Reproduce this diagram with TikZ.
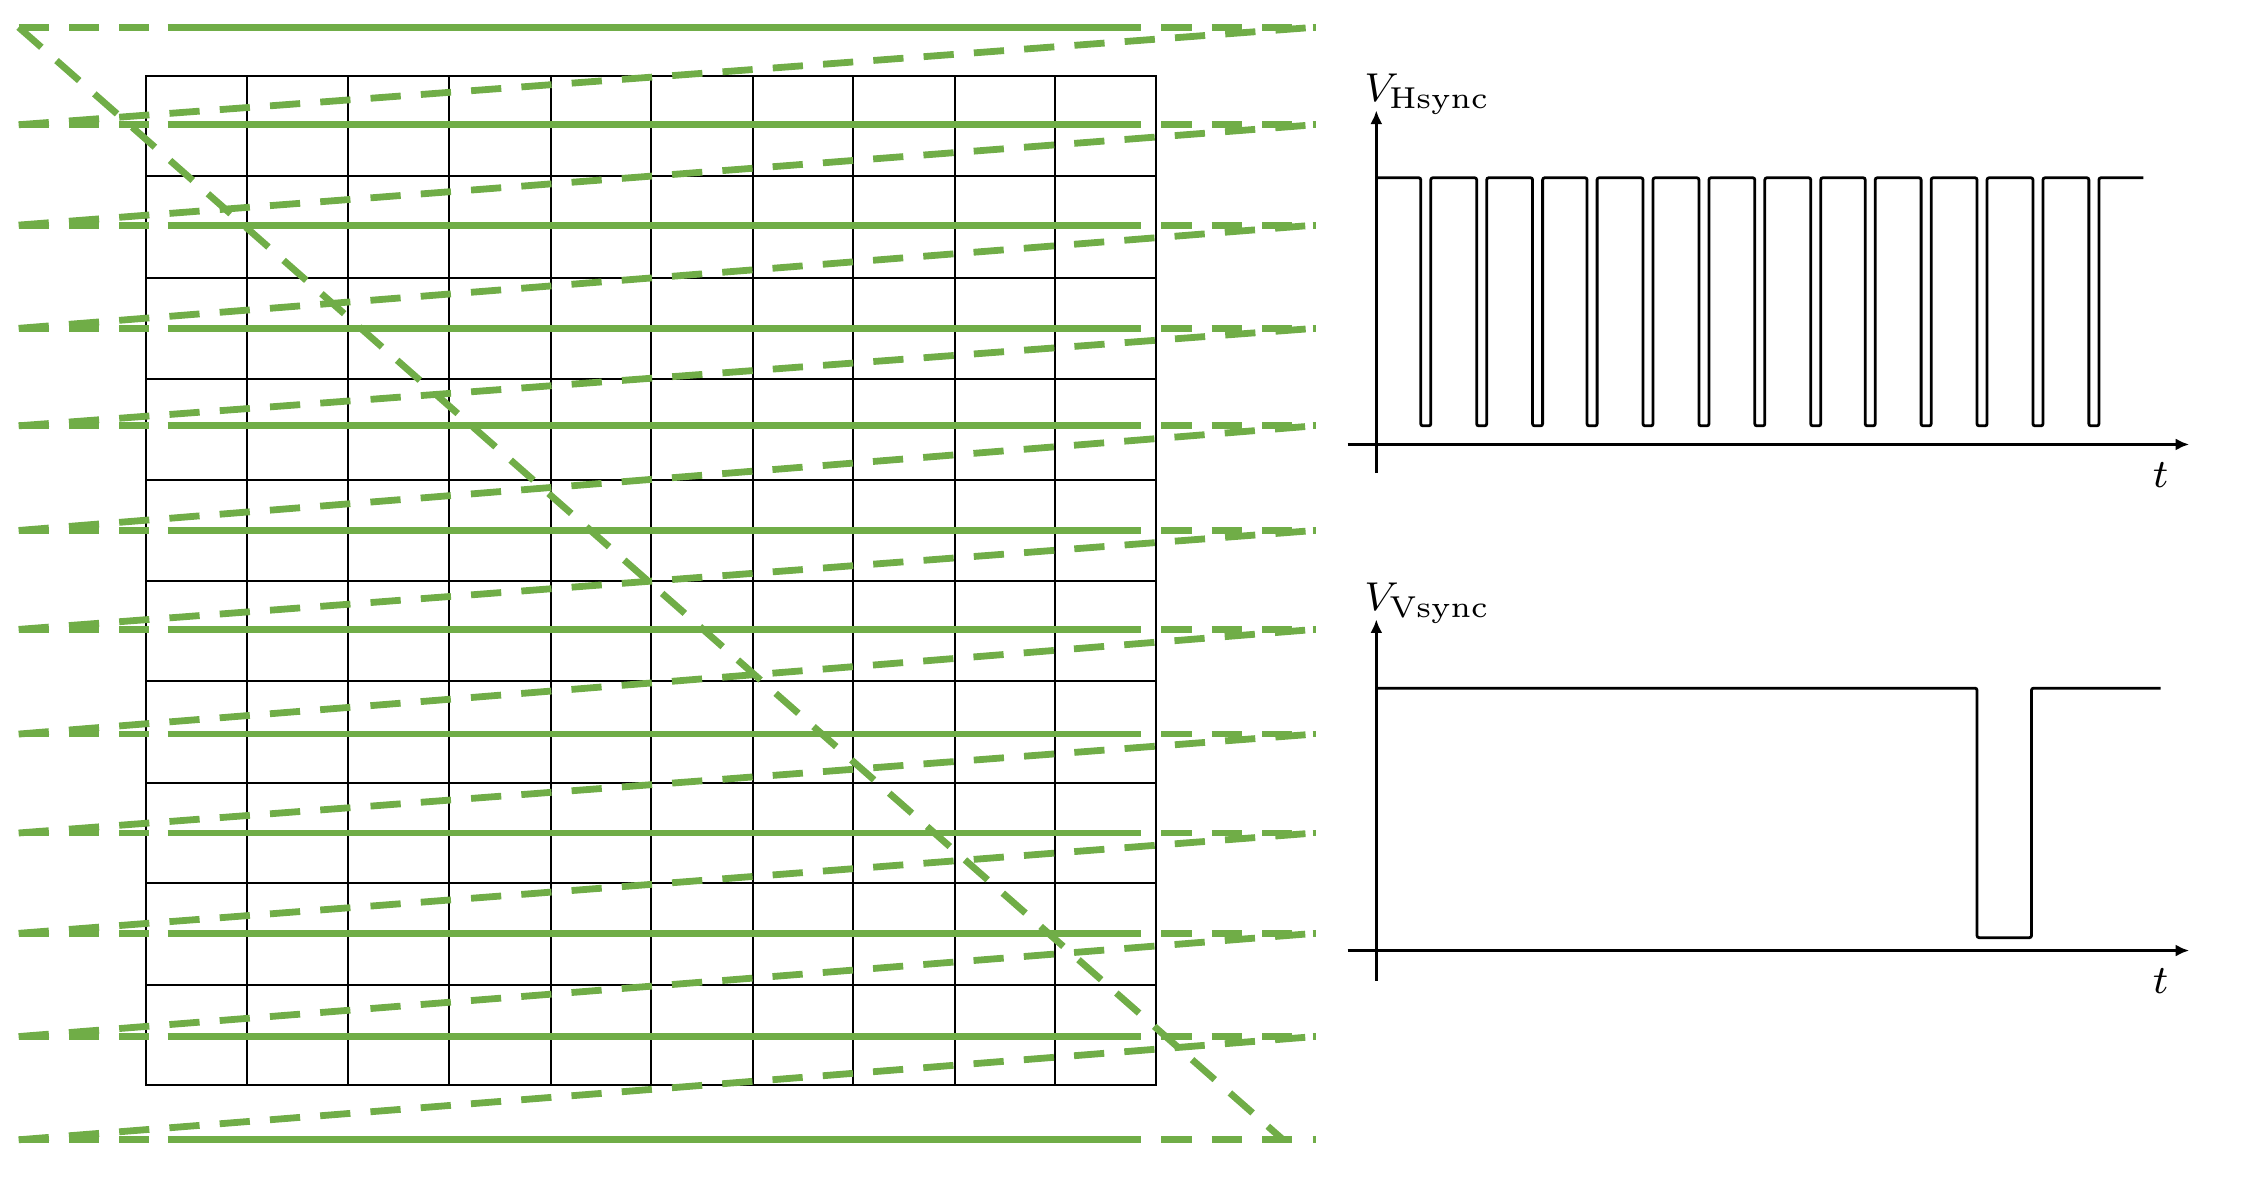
\documentclass[tikz,border=0pt]{standalone}
\usepackage{tikz}
\usepackage{amsmath}
\usetikzlibrary{arrows.meta}
\definecolor{scangreen}{RGB}{112,173,71}

\begin{document}
\begin{tikzpicture}[x=0.01cm, y=-0.01cm,
    scanline/.style={scangreen, line width=1.35pt},
    retrace/.style={scangreen, line width=1.35pt, dash pattern=on 6pt off 4pt},
    axis/.style={black, line width=0.55pt, -{Latex[length=2.7pt,width=2.4pt]}},
    wave/.style={black, line width=0.55pt, rounded corners=0.4pt},
    lab/.style={inner sep=0pt, anchor=base west, font=\fontsize{8.5}{10}\selectfont}]

\useasboundingbox (0,0) rectangle (1568,823);

 \draw [black, thin] (102,53) rectangle (806,757);

\draw [thin] (172,53) -- (172,757);
\draw [thin] (243,53) -- (243,757);
\draw [thin] (313,53) -- (313,757);
\draw [thin] (384,53) -- (384,757);
\draw [thin] (454,53) -- (454,757);
\draw [thin] (525,53) -- (525,757);
\draw [thin] (595,53) -- (595,757);
\draw [thin] (666,53) -- (666,757);
\draw [thin] (736,53) -- (736,757);

\draw [thin] (102,123) -- (806,123);
\draw [thin] (102,194) -- (806,194);
\draw [thin] (102,264) -- (806,264);
\draw [thin] (102,335) -- (806,335);
\draw [thin] (102,405) -- (806,405);
\draw [thin] (102,475) -- (806,475);
\draw [thin] (102,546) -- (806,546);
\draw [thin] (102,616) -- (806,616);
\draw [thin] (102,687) -- (806,687);


% scan lines
\draw [scanline] (117,19) -- (796,19);
\draw [scanline] (117,87) -- (796,87);
\draw [scanline] (117,157) -- (796,157);
\draw [scanline] (117,229) -- (796,229);
\draw [scanline] (117,297) -- (796,297);
\draw [scanline] (117,370) -- (796,370);
\draw [scanline] (117,439) -- (796,439);
\draw [scanline] (117,512) -- (796,512);
\draw [scanline] (117,581) -- (796,581);
\draw [scanline] (117,651) -- (796,651);
\draw [scanline] (117,723) -- (796,723);
\draw [scanline] (117,795) -- (796,795);

\draw [retrace] (13,19) -- (104,19)   (810,19) -- (918,19);
\draw [retrace] (13,87) -- (104,87)   (810,87) -- (918,87);
\draw [retrace] (13,157) -- (104,157) (810,157) -- (918,157);
\draw [retrace] (13,229) -- (104,229) (810,229) -- (918,229);
\draw [retrace] (13,297) -- (104,297) (810,297) -- (918,297);
\draw [retrace] (13,370) -- (104,370) (810,370) -- (918,370);
\draw [retrace] (13,439) -- (104,439) (810,439) -- (918,439);
\draw [retrace] (13,512) -- (104,512) (810,512) -- (918,512);
\draw [retrace] (13,581) -- (104,581) (810,581) -- (918,581);
\draw [retrace] (13,651) -- (104,651) (810,651) -- (918,651);
\draw [retrace] (13,723) -- (104,723) (810,723) -- (918,723);
\draw [retrace] (13,795) -- (104,795) (810,795) -- (918,795);

% back to the next line
\draw [retrace] (13,87) -- (917,19);
\draw [retrace] (13,157) -- (917,87);
\draw [retrace] (13,229) -- (917,157);
\draw [retrace] (13,297) -- (917,229);
\draw [retrace] (13,370) -- (917,297);
\draw [retrace] (13,439) -- (917,370);
\draw [retrace] (13,512) -- (917,439);
\draw [retrace] (13,581) -- (917,512);
\draw [retrace] (13,651) -- (917,581);
\draw [retrace] (13,723) -- (917,651);
\draw [retrace] (13,795) -- (917,723);

\draw [retrace] (13,19) -- (895,795);


% Hsync
\draw [axis] (940,310) -- (1527,310);
\draw [axis] (960,330) -- (960,77);
\draw [wave] (960,124) -| (991,297) -| (998,124) -| (1030,297) -| (1037,124)
   -| (1069,297) -| (1076,124) -| (1107,297) -| (1114,124) -| (1146,297) -| (1153,124)
   -| (1185,297) -| (1192,124) -| (1224,297) -| (1231,124) -| (1263,297) -| (1270,124)
   -| (1301,297) -| (1308,124) -| (1340,297) -| (1347,124) -| (1379,297) -| (1386,124)
   -| (1418,297) -| (1425,124) -| (1457,297) -| (1464,124) -- (1495,124);

\node (vhsync) [lab] at (951,71) {$V_{\mathrm{Hsync}}$};
\node (th) [lab] at (1501,340) {$t$};


% Vsync
\draw [axis] (940,663) -- (1527,663);
\draw [axis] (960,684) -- (960,432);
\draw [wave] (960,480) -| (1379,654) -| (1417,480) -- (1507,480);

\node (vvsync) [lab] at (951,426) {$V_{\mathrm{Vsync}}$};
\node (tv) [lab] at (1501,693) {$t$};

    \end{tikzpicture}
\end{document}
